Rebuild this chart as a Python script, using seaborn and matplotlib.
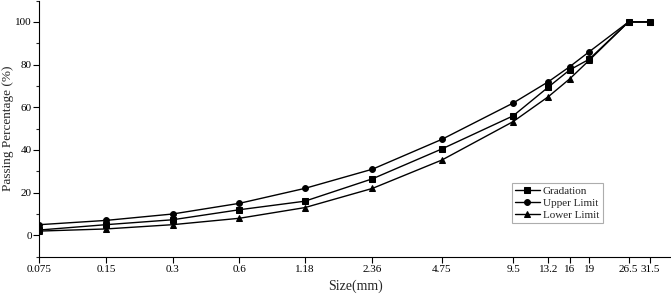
import numpy as np
import pandas as pd
import matplotlib
matplotlib.use("Agg")
import matplotlib.pyplot as plt
from matplotlib.ticker import MultipleLocator, NullLocator
import seaborn as sns

# sieve sizes (mm) and passing percentages
sizes = [0.075, 0.15, 0.3, 0.6, 1.18, 2.36, 4.75, 9.5, 13.2, 16, 19, 26.5, 31.5]
size_labels = ["0.075", "0.15", "0.3", "0.6", "1.18", "2.36", "4.75",
               "9.5", "13.2", "16", "19", "26.5", "31.5"]
gradation = [2.5, 5, 7.3, 12, 16, 26.5, 40.5, 56, 69.5, 77.5, 82.5, 100, 100]
upper_limit = [5, 7, 10, 15, 22, 31, 45, 62, 72, 79, 86, 100, 100]
lower_limit = [2, 3, 5, 8, 13, 22, 35.3, 53.3, 65, 73.3, 82, 100, 100]

series = [
    ("Gradation", gradation, "s"),
    ("Upper Limit", upper_limit, "o"),
    ("Lower Limit", lower_limit, "^"),
]

sns.set_theme(style="ticks")
plt.rcParams["font.family"] = ["Liberation Serif", "DejaVu Serif"]


def forward(x):
    # log-like sieve axis, slightly stretched at the coarse end
    x = np.clip(np.asarray(x, dtype=float), 1e-6, None)
    return np.log2(x) + 0.015 * x


_grid = np.geomspace(1e-6, 1e4, 20000)
_grid_f = forward(_grid)


def inverse(y):
    return np.interp(y, _grid_f, _grid)


fig = plt.figure(figsize=(6.71, 2.98), dpi=100)
ax = fig.add_axes([0.0586, 0.1386, 0.9414, 0.8594])

for name, vals, mk in series:
    df = pd.DataFrame({"size": sizes, "passing": vals})
    sns.lineplot(data=df, x="size", y="passing", ax=ax, color="black",
                 linewidth=1.0, marker=mk, markersize=4.2,
                 markeredgecolor="black", label=name)

ax.set_xscale("function", functions=(forward, inverse))
ax.set_xlim(0.075, 37)
ax.set_ylim(-10, 110)
ax.set_xticks(sizes)
ax.set_xticklabels(size_labels)
ax.xaxis.set_minor_locator(NullLocator())
ax.yaxis.set_major_locator(MultipleLocator(20))
ax.yaxis.set_minor_locator(MultipleLocator(10))
ax.set_yticks([0, 20, 40, 60, 80, 100])

ax.tick_params(axis="both", which="major", direction="out", length=4,
               width=0.8, labelsize=8, colors="black", pad=2)
ax.tick_params(axis="y", which="major", pad=1.5)
ax.tick_params(axis="y", which="minor", direction="out", length=2, width=0.8)

ax.set_xlabel("Size(mm)", fontsize=10, labelpad=4)
ax.set_ylabel("Passing Percentage (%)", fontsize=9.5, labelpad=0.5)

sns.despine(ax=ax)
for side in ["left", "bottom"]:
    ax.spines[side].set_color("black")
    ax.spines[side].set_linewidth(0.8)

leg = ax.legend(loc="upper left", bbox_to_anchor=(0.748, 0.288),
                fontsize=8, frameon=True, fancybox=False, handlelength=2.2,
                borderpad=0.3, labelspacing=0.2, handletextpad=0.3,
                borderaxespad=0)
leg.get_frame().set_edgecolor("#999999")
leg.get_frame().set_linewidth(0.8)

fig.savefig("out.png", dpi=100)
